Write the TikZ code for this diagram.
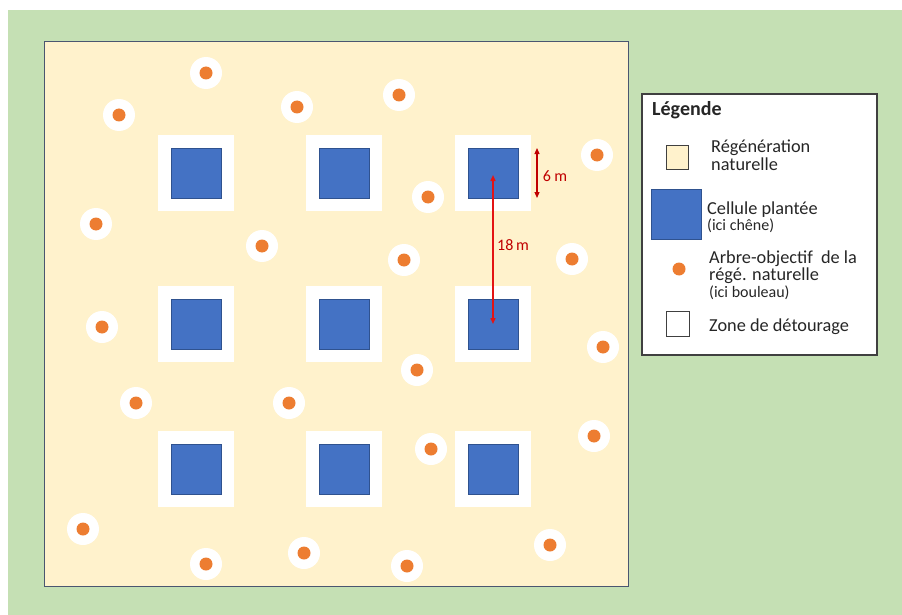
\documentclass[tikz,border=0pt]{standalone}
\usepackage{fontspec}
\setmainfont{Carlito}
\usetikzlibrary{arrows.meta}
\definecolor{bggreen}{HTML}{C5E0B4}
\definecolor{plotyellow}{HTML}{FFF2CC}
\definecolor{plotedge}{HTML}{4A5670}
\definecolor{cellblue}{HTML}{4472C4}
\definecolor{celledge}{HTML}{2F528F}
\definecolor{treeorange}{HTML}{ED7D31}
\definecolor{dimdark}{HTML}{C00000}
\definecolor{dimbright}{HTML}{E31414}
\definecolor{legedge}{HTML}{404040}
\begin{document}
\begin{tikzpicture}[x=1pt,y=-1pt,
  zone/.style={fill=white, draw=none, minimum size=76pt, inner sep=0pt, outer sep=0pt},
  cell/.style={fill=cellblue, draw=celledge, line width=0.8pt, minimum size=50pt, inner sep=0pt, outer sep=0pt},
  halo/.style={fill=white, draw=none, circle, minimum size=32pt, inner sep=0pt},
  tree/.style={fill=treeorange, draw=none, circle, minimum size=13pt, inner sep=0pt},
  legtext/.style={anchor=base west, font=\fontsize{18.3}{18}\selectfont, text=black!85, inner sep=0pt},
  legsmall/.style={anchor=base west, font=\fontsize{16}{16}\selectfont, text=black!85, inner sep=0pt},
  dimlabel/.style={font=\fontsize{16}{16}\selectfont, text=dimdark, inner sep=0pt},
  dimtip/.style={{Triangle[length=6pt,width=5pt]}-{Triangle[length=6pt,width=5pt]}}
]
\useasboundingbox (0,0) rectangle (902,615);
% background
\fill[white] (0,0) rectangle (902,615);
\fill[bggreen] (8,10) rectangle (902,615);
% plot area
\draw[fill=plotyellow, draw=plotedge, line width=1pt] (44,42) rectangle (628,586);

% zones and cells
\foreach \r/\y in {1/173,2/324,3/469}{
  \foreach \c/\x in {1/196,2/344,3/493}{
    \node[zone] (z\r\c) at (\x,\y) {};
    \node[cell] (c\r\c) at (\x,\y) {};
  }
}

% trees
\foreach \i/\x/\y in {1/206/73, 2/119/115, 3/297/107, 4/399/95, 5/597/155,
  6/428/197, 7/96/224, 8/262/246, 9/404/260, 10/572/259, 11/102/327,
  12/603/347, 13/417/370, 14/136/403, 15/289/403, 16/431/449, 17/594/436,
  18/83/529, 19/206/564, 20/304/553, 21/407/566, 22/550/545}{
  \node[halo] (h\i) at (\x,\y) {};
  \node[tree] (t\i) at (\x,\y) {};
}

% dimension arrows
\coordinate (d6a) at ([xshift=19pt]c13.north east);
\coordinate (d6b) at ([xshift=19pt]c13.south east);
\draw[dimtip, draw=dimdark, fill=dimdark, line width=1.2pt] (d6a) -- (d6b);
\node[dimlabel] (l6) at (555,176) {6 m};
\draw[dimtip, draw=dimbright, fill=dimbright, line width=1.4pt] ([yshift=-2pt]c13.center) -- (c23.center);
\node[dimlabel] (l18) at (513,245) {18\,m};

% legend
\draw[fill=white, draw=legedge, line width=1.3pt] (642,94) rectangle (877,355);
\node[anchor=base west, inner sep=0pt, font=\fontsize{20}{20}\selectfont\bfseries, text=black!85] (lt) at (652,116) {Légende};
\draw[fill=plotyellow, draw=legedge, line width=0.8pt] (666,145) rectangle (688,169);
\node[legtext] (l1a) at (711,153) {Régénération};
\node[legtext] (l1b) at (711,170) {naturelle};
\draw[fill=cellblue, draw=celledge, line width=0.8pt] (651,189) rectangle (701,239);
\node[legtext] (l2a) at (707,214) {Cellule plantée};
\node[legsmall] (l2b) at (707,230) {(ici chêne)};
\node[tree] (lg3) at (679,269) {};
\node[legtext] (l3a) at (709,263) {Arbre-objectif\hspace{4pt} de la};
\node[legtext] (l3b) at (709,280) {régé. naturelle};
\node[legsmall] (l3c) at (709,297) {(ici bouleau)};
\draw[fill=white, draw=legedge, line width=0.8pt] (666,311) rectangle (689,336);
\node[legtext] (l4) at (709,331) {Zone de détourage};
\end{tikzpicture}
\end{document}
